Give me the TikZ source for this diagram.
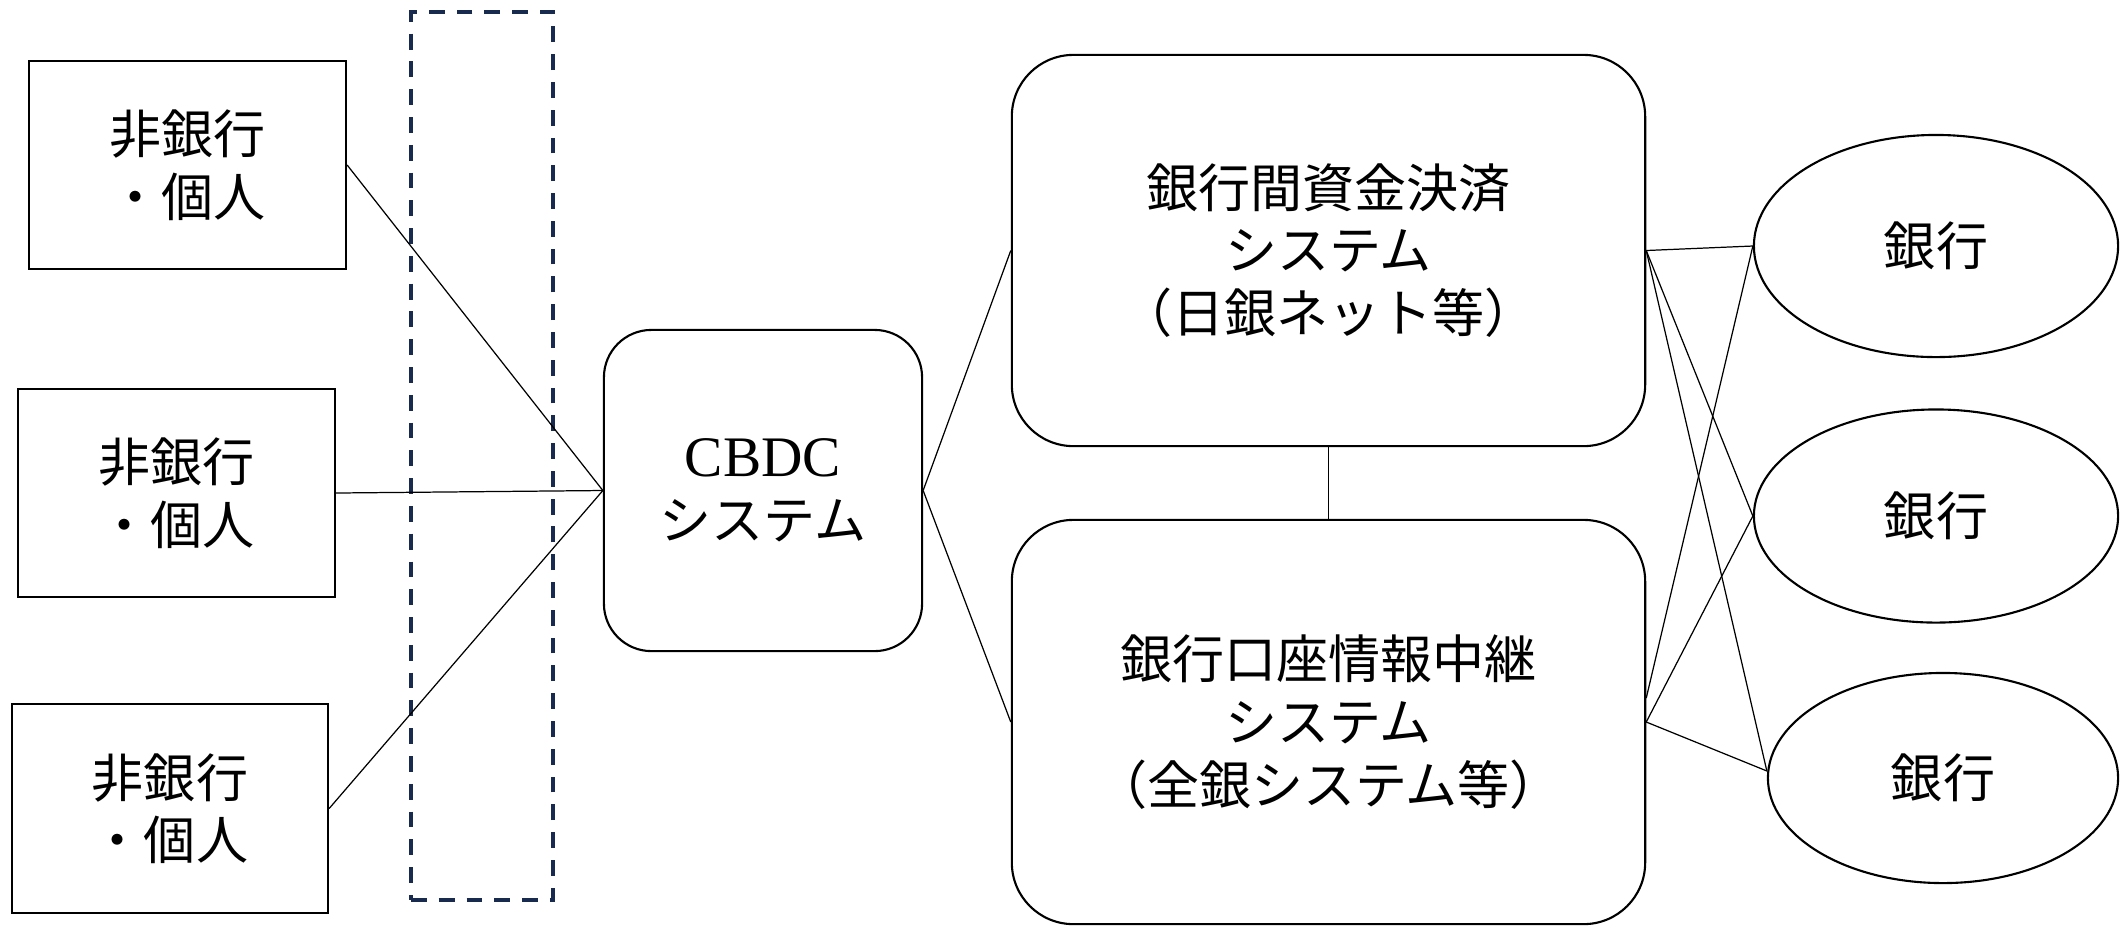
\documentclass[tikz,border=0pt]{standalone}
\usepackage{fontspec}
\setmainfont{Liberation Serif}
\newfontfamily\jpfont{Noto Sans CJK JP}
\usetikzlibrary{shapes.geometric}
\definecolor{navyline}{RGB}{24,42,78}
\begin{document}
\begin{tikzpicture}[x=0.01cm,y=-0.01cm,
  jptext/.style={font=\jpfont\fontsize{14.8pt}{17.8pt}\selectfont, align=center},
  sqbox/.style={jptext, draw, line width=0.6pt, inner sep=0pt},
  rbox/.style={jptext, draw, line width=0.6pt, inner sep=0pt, rounded corners=#1},
  bank/.style={jptext, draw, ellipse, line width=0.6pt, inner sep=0pt},
  zonebox/.style={draw=navyline, line width=1.15pt, dash pattern=on 4.5pt off 3.4pt, inner sep=0pt},
  conn/.style={line width=0.35pt}]
\useasboundingbox (0,0) rectangle (2121,926);

% left boxes
\node[sqbox, minimum width=3.17cm, minimum height=2.08cm] (p1) at (187.5,165) {非銀行\\・個人};
\node[sqbox, minimum width=3.17cm, minimum height=2.08cm] (p2) at (176.5,493) {非銀行\\・個人};
\node[sqbox, minimum width=3.16cm, minimum height=2.09cm] (p3) at (170,808.5) {非銀行\\・個人};

% dashed zone
\node[zonebox, minimum width=1.42cm, minimum height=8.88cm] (zone) at (482,456) {};

% CBDC
\node[rbox=13.5pt, minimum width=3.18cm, minimum height=3.21cm] (cbdc) at (763,490.5)
  {\fontsize{16.3pt}{18.2pt}\selectfont\rmfamily CBDC\\\jpfont システム};

% systems
\node[rbox=17.5pt, minimum width=6.33cm, minimum height=3.91cm] (boj) at (1328.5,250.5)
  {銀行間資金決済\\システム\\（日銀ネット等）};
\node[rbox=17.5pt, minimum width=6.33cm, minimum height=4.04cm] (zengin) at (1328.5,722)
  {銀行口座情報中継\\システム\\（全銀システム等）};

% banks
\node[bank, minimum width=3.64cm, minimum height=2.22cm] (b1) at (1936,246) {銀行};
\node[bank, minimum width=3.64cm, minimum height=2.13cm] (b2) at (1936,516) {銀行};
\node[bank, minimum width=3.50cm, minimum height=2.10cm] (b3) at (1943,778) {銀行};

% connectors
\draw[conn] (p1.east) -- (cbdc.west);
\draw[conn] (p2.east) -- (cbdc.west);
\draw[conn] (p3.east) -- (cbdc.west);
\draw[conn] (cbdc.east) -- (boj.west);
\draw[conn] (cbdc.east) -- (zengin.west);
\draw[conn] (boj.south) -- (zengin.north);
\draw[conn] (boj.east) -- (b1.west);
\draw[conn] (boj.east) -- (b2.west);
\draw[conn] (boj.east) -- ([yshift=2pt]b3.west);
\draw[conn] ([yshift=6.8pt]zengin.east) -- (b1.west);
\draw[conn] (zengin.east) -- (b2.west);
\draw[conn] (zengin.east) -- ([yshift=2pt]b3.west);
\end{tikzpicture}
\end{document}
